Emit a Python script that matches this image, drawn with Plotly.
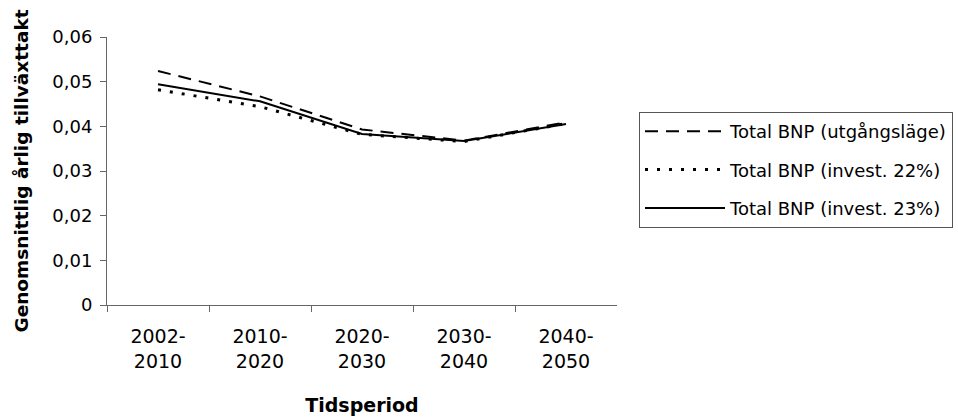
import plotly.graph_objects as go

categories = ["2002-<br>2010", "2010-<br>2020", "2020-<br>2030", "2030-<br>2040", "2040-<br>2050"]
bnp_utgang = [0.0524, 0.0467, 0.0393, 0.0368, 0.0409]
bnp_inv22 = [0.0482, 0.0444, 0.0382, 0.0366, 0.0406]
bnp_inv23 = [0.0494, 0.0456, 0.0383, 0.0367, 0.0405]
names = ["Total BNP (utgångsläge)", "Total BNP (invest. 22%)", "Total BNP (invest. 23%)"]
y_ticks = [0, 0.01, 0.02, 0.03, 0.04, 0.05, 0.06]
y_ticktext = ["0", "0,01", "0,02", "0,03", "0,04", "0,05", "0,06"]

FONT = "DejaVu Sans, Liberation Sans, Arial, sans-serif"

W, H = 958, 419
L, R = 107, 0
plot_right = 617
dom_end = (plot_right - L) / (W - L - R)
legend_x = (639 - L) / (W - L - R)

fig = go.Figure()
series = [bnp_utgang, bnp_inv22, bnp_inv23]
dashes = ["13px,8px", "3px,9px", "solid"]
widths = [2, 3, 2]
for i, (vals, nm, d, w) in enumerate(zip(series, names, dashes, widths)):
    fig.add_trace(go.Scatter(x=categories, y=vals, name=nm, mode="lines",
                             line=dict(color="black", dash=d, width=w),
                             legendgroup=f"g{i}"))

fig.update_layout(
    width=W, height=H,
    margin=dict(l=L, r=R, t=37, b=114),
    paper_bgcolor="white", plot_bgcolor="white",
    font=dict(family=FONT, size=18, color="black"),
    showlegend=True,
    legend=dict(x=legend_x, xanchor="left", y=0.504, yanchor="middle",
                bordercolor="#555", borderwidth=1, bgcolor="white",
                font=dict(size=18), tracegroupgap=12, itemwidth=80),
    xaxis=dict(type="category", range=[-0.5, 4.5], domain=[0, dom_end],
               showline=True, linecolor="#666", linewidth=1, automargin=False,
               ticks="outside", tickson="boundaries", ticklen=6, tickcolor="#666",
               tickfont=dict(size=19), ticklabelstandoff=14,
               title=dict(text="<b>Tidsperiod</b>", font=dict(size=19), standoff=28),
               showgrid=False, zeroline=False),
    yaxis=dict(range=[0, 0.06], tickvals=y_ticks, ticktext=y_ticktext,
               showline=True, linecolor="#666", linewidth=1, ticks="outside",
               ticklen=6, tickcolor="#666", showgrid=False, zeroline=False,
               ticklabelstandoff=4, automargin=False,
               title=dict(text="<b>Genomsnittlig årlig tillväxttakt</b>", font=dict(size=18.5), standoff=18)),
)

fig.write_html("out.html")
